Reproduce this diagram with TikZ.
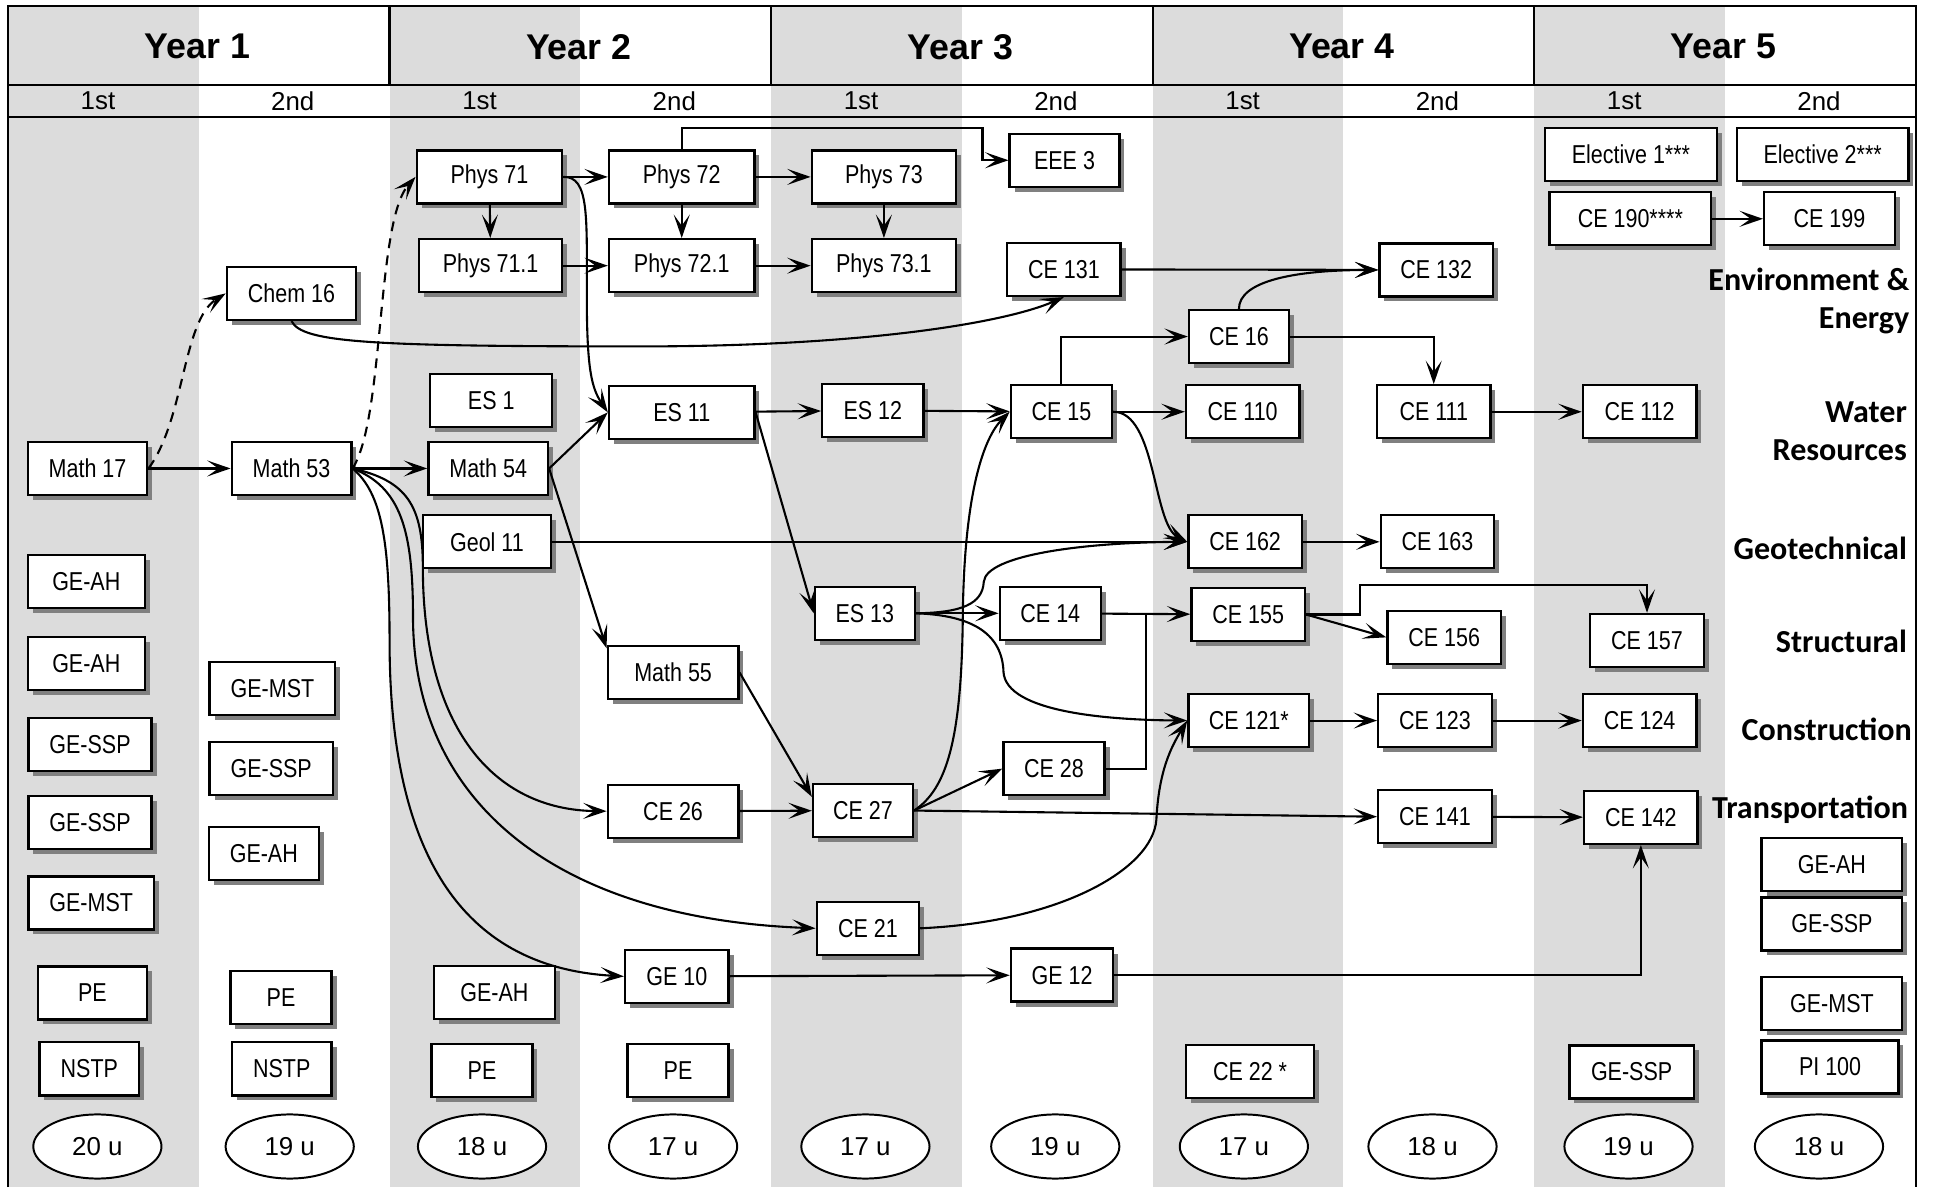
\documentclass[tikz,border=0pt]{standalone}
\usepackage{fontspec}
\setmainfont{Liberation Sans}
\newfontfamily\narrowfont[FakeStretch=0.83]{Liberation Sans}
\newfontfamily\areafont{Carlito}
\usetikzlibrary{arrows.meta,shadows,calc,shapes.geometric}

\definecolor{stripe}{RGB}{220,220,220}
\definecolor{shade}{RGB}{128,128,128}

\tikzset{
  course/.style={draw, fill=white, line width=1.9pt, minimum height=43pt, inner sep=0pt,
    font=\narrowfont\fontsize{21}{24}\selectfont,
    drop shadow={shadow xshift=4pt, shadow yshift=-4pt, fill=shade, opacity=1}},
  wd/.style={minimum width=#1pt},
  units/.style={draw, ellipse, fill=white, line width=1.6pt, minimum width=104pt,
    minimum height=52pt, inner sep=0pt, font=\fontsize{21}{24}\selectfont},
  arr/.style={line width=1.7pt, -{Stealth[length=19pt,width=13pt,inset=9pt]}},
  area/.style={font=\areafont\bfseries\fontsize{26}{31}\selectfont, align=right,
    anchor=east, inner sep=0pt},
}

\begin{document}
\begin{tikzpicture}[x=1pt, y=-1pt]
\useasboundingbox (0,0) rectangle (1568,963);

% shaded first semesters
\foreach \c in {0,...,4}
  \fill[stripe] (6.5+309.5*\c,5) rectangle ++(154.75,958);

% frame and header
\draw[line width=1.6pt] (6.5,963) -- (6.5,5) -- (1554,5) -- (1554,963);
\draw[line width=2.2pt] (6.5,69) -- (1554,69);
\draw[line width=1.4pt] (6.5,95) -- (1554,95);
\foreach \c in {1,...,4}
  \draw[line width=1.8pt] (6.5+309.5*\c,5) -- ++(0,64);
\foreach \c in {1,...,5}
  \node[font=\bfseries\fontsize{29}{32}\selectfont] (year\c) at (6.5+309.5*\c-156,38) {Year \c};
\foreach \c in {0,...,4} {
  \node[font=\fontsize{21}{24}\selectfont] at (6.5+309.5*\c+73,82) {1st};
  \node[font=\fontsize{21}{24}\selectfont] at (6.5+309.5*\c+231,82) {2nd};
}

% year 1
\node[course, wd=97] (math17) at (71,380) {Math 17};
\node[course, wd=95] (geAHa) at (70,471.5) {GE-AH};
\node[course, wd=95] (geAHb) at (70,538) {GE-AH};
\node[course, wd=100] (geSSPa) at (73,604) {GE-SSP};
\node[course, wd=100] (geSSPb) at (73,667) {GE-SSP};
\node[course, wd=102] (geMSTa) at (74,732.5) {GE-MST};
\node[course, wd=88] (peA) at (75,805.5) {PE};
\node[course, wd=81] (nstpA) at (72.5,867) {NSTP};

\node[course, wd=105] (chem16) at (236.5,238) {Chem 16};
\node[course, wd=97] (math53) at (236.5,380) {Math 53};
\node[course, wd=102] (geMSTb) at (221,558.5) {GE-MST};
\node[course, wd=100] (geSSPc) at (220,623.5) {GE-SSP};
\node[course, wd=89] (geAHc) at (214,692.5) {GE-AH};
\node[course, wd=82] (peB) at (228,809) {PE};
\node[course, wd=81] (nstpB) at (228.5,867) {NSTP};

% year 2
\node[course, wd=118] (phys71) at (397,143.5) {Phys 71};
\node[course, wd=116] (phys711) at (398,215.5) {Phys 71.1};
\node[course, wd=99] (es1) at (398.5,325) {ES 1};
\node[course, wd=97] (math54) at (396,380) {Math 54};
\node[course, wd=104] (geol11) at (395,439.5) {Geol 11};
\node[course, wd=98] (geAHd) at (401,805) {GE-AH};
\node[course, wd=82] (peC) at (391,868.5) {PE};

\node[course, wd=118] (phys72) at (553,143.5) {Phys 72};
\node[course, wd=118] (phys721) at (553,215.5) {Phys 72.1};
\node[course, wd=118] (es11) at (553,334.5) {ES 11};
\node[course, wd=106] (math55) at (546,545.5) {Math 55};
\node[course, wd=106] (ce26) at (546,658) {CE 26};
\node[course, wd=84] (ge10) at (549,792) {GE 10};
\node[course, wd=82] (peD) at (550,868.5) {PE};

% year 3
\node[course, wd=117] (phys73) at (717,143.5) {Phys 73};
\node[course, wd=117] (phys731) at (717,215.5) {Phys 73.1};
\node[course, wd=82] (es12) at (708,333) {ES 12};
\node[course, wd=81] (es13) at (701.5,497.5) {ES 13};
\node[course, wd=81] (ce27) at (700,657.5) {CE 27};
\node[course, wd=83] (ce21) at (704,753) {CE 21};

\node[course, wd=89] (eee3) at (863.5,130) {EEE 3};
\node[course, wd=92] (ce131) at (863,218.5) {CE 131};
\node[course, wd=82] (ce15) at (861,334) {CE 15};
\node[course, wd=82] (ce14) at (852,497.5) {CE 14};
\node[course, wd=82] (ce28) at (855,623.5) {CE 28};
\node[course, wd=83] (ge12) at (861.5,791) {GE 12};

% year 4
\node[course, wd=81] (ce16) at (1005,273) {CE 16};
\node[course, wd=92] (ce110) at (1008,334) {CE 110};
\node[course, wd=92] (ce162) at (1010,439.5) {CE 162};
\node[course, wd=92] (ce155) at (1012.5,498.5) {CE 155};
\node[course, wd=98] (ce121) at (1013,584.5) {CE 121*};
\node[course, wd=104] (ce22) at (1014,869) {CE 22 *};

\node[course, wd=92] (ce132) at (1165,219) {CE 132};
\node[course, wd=92] (ce111) at (1163,334) {CE 111};
\node[course, wd=92] (ce163) at (1166,439.5) {CE 163};
\node[course, wd=92] (ce156) at (1171.5,517) {CE 156};
\node[course, wd=92] (ce123) at (1164,584.5) {CE 123};
\node[course, wd=92] (ce141) at (1164,662.5) {CE 141};

% year 5
\node[course, wd=140] (elec1) at (1323,125.5) {Elective 1***};
\node[course, wd=131] (ce190) at (1322.5,177.5) {CE 190****};
\node[course, wd=92] (ce112) at (1330,334) {CE 112};
\node[course, wd=92] (ce157) at (1336,519.5) {CE 157};
\node[course, wd=92] (ce124) at (1330,584.5) {CE 124};
\node[course, wd=92] (ce142) at (1331,663) {CE 142};
\node[course, wd=101] (geSSPd) at (1323.5,869.5) {GE-SSP};

\node[course, wd=139] (elec2) at (1478.5,125.5) {Elective 2***};
\node[course, wd=106] (ce199) at (1484,177.5) {CE 199};
\node[course, wd=114] (geAHe) at (1486,701.5) {GE-AH};
\node[course, wd=114] (geSSPe) at (1486,749.5) {GE-SSP};
\node[course, wd=114] (geMSTc) at (1486,814) {GE-MST};
\node[course, wd=111] (pi100) at (1484.5,865.5) {PI 100};

% units per semester
\foreach \x/\u [count=\i] in {79/20,235/19,391/18,546/17,702/17,856/19,1009/17,1162/18,1321/19,1475.5/18}
  \node[units] (units\i) at (\x,930) {\u\ u};

% areas
\node[area] (envi) at (1549,244) {Environment \&\\Energy};
\node[area] (water) at (1547,350) {Water\\Resources};
\node[area] (geot) at (1547,445) {Geotechnical};
\node[area] (struc) at (1547,520) {Structural};
\node[area] (cons) at (1551,592) {Construction};
\node[area] (trans) at (1548,657) {Transportation};

% straight prerequisites
\path[arr]
  (math17) edge (math53)
  (math53) edge (math54)
  (phys71) edge (phys72)
  (phys72) edge (phys73)
  (phys71) edge (phys711)
  (phys72) edge (phys721)
  (phys73) edge (phys731)
  (phys711) edge (phys721)
  (phys721) edge (phys731)
  (math54.east) edge (es11.west)
  (math54.east) edge (math55.160)
  (geol11) edge (ce162)
  (es11) edge (es12)
  (es11.east) edge (es13.west)
  (es12) edge (ce15)
  (math55.east) edge (ce27.165)
  (ce26) edge (ce27)
  (es13) edge (ce14)
  (ce27.east) edge (ce28.west)
  (ce27.east) edge (ce141.west)
  (ge10) edge (ge12)
  (ce131) edge (ce132)
  (ce15) edge (ce110)
  (ce14) edge (ce155)
  (ce162) edge (ce163)
  (ce155.east) edge (ce156.west)
  (ce121) edge (ce123)
  (ce123) edge (ce124)
  (ce141) edge (ce142)
  (ce111) edge (ce112)
  (ce190) edge (ce199);

% co-requisites
\draw[arr, dash pattern=on 8pt off 6pt] (math17.east) .. controls (150,340) and (148,260) .. (chem16.west);
\draw[arr, dash pattern=on 8pt off 6pt] (math53.east) .. controls (312,340) and (305,180) .. (phys71.west);

% curved prerequisites
\draw[arr] (math53.east) .. controls (330,390) and (343,410) .. (343,460) .. controls (343,590) and (400,657) .. (ce26.west);
\draw[arr] (math53.east) .. controls (325,395) and (335,430) .. (335,500) .. controls (335,650) and (450,745) .. (ce21.west);
\draw[arr] (math53.east) .. controls (310,400) and (316,440) .. (316,520) .. controls (316,700) and (380,785) .. (ge10.west);
\draw[arr] (chem16.south) .. controls (245,278) and (300,281) .. (520,281) .. controls (700,281) and (815,262) .. (ce131.south);
\draw[arr] (phys71.east) .. controls (478,143) and (476,175) .. (476,240) .. controls (476,300) and (480,315) .. (es11.west);
\draw[arr] (es13.east) .. controls (780,497) and (797,490) .. (798,472) .. controls (800,450) and (880,440) .. (ce162.west);
\draw[arr] (es13.east) .. controls (790,499) and (813,515) .. (814,545) .. controls (816,578) and (900,584) .. (ce121.west);
\draw[arr] (ce27.east) .. controls (768,640) and (780,600) .. (781,500) .. controls (782,400) and (798,355) .. (ce15.west);
\draw[arr] (ce21.east) .. controls (860,748) and (935,705) .. (938,665) .. controls (940,625) and (950,606) .. (ce121.west);
\draw[arr] (ce15.east) .. controls (938,334) and (935,425) .. (ce162.west);
\draw[arr] (ce16.north) .. controls (1005,228) and (1050,219) .. (ce132.west);

% elbow prerequisites
\draw[arr] (phys72.north) |- (797,104) |- (eee3.west);
\draw[arr] (ce15.north) |- (ce16.west);
\draw[arr] (ce16.east) -| (ce111.north);
\draw[line width=1.7pt] (ce28.east) -| ($(ce14.east)!.5!(ce155.west)$);
\draw[arr] (ce155.east) -- ++(44,0) -- ++(0,-24) -| (ce157.north);
\draw[arr] (ge12.east) -| (ce142.south);
\end{tikzpicture}
\end{document}
